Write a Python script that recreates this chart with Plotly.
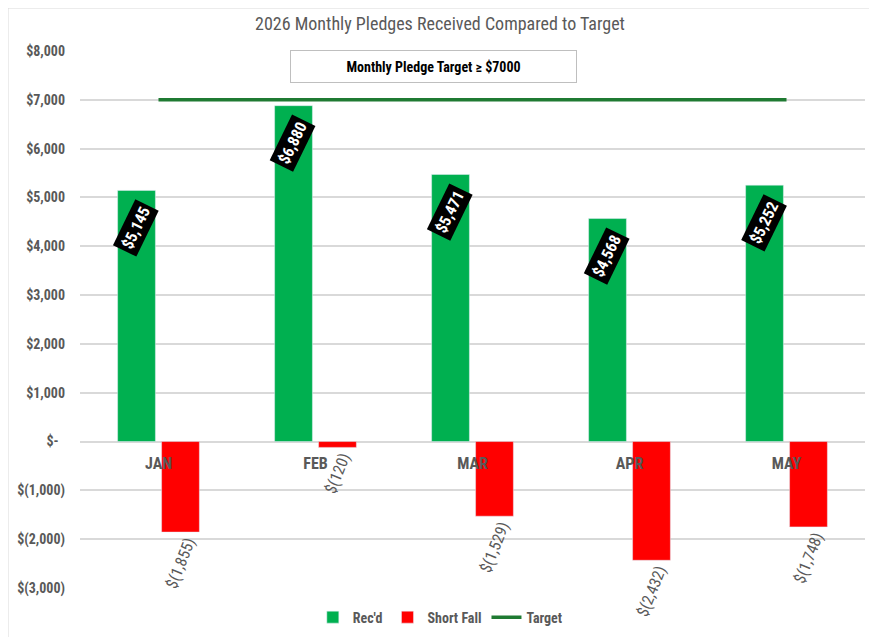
import plotly.graph_objects as go

months = ["JAN", "FEB", "MAR", "APR", "MAY"]
recd = [5145, 6880, 5471, 4568, 5252]
shortfall = [-1855, -120, -1529, -2432, -1748]
target = [7000, 7000, 7000, 7000, 7000]
y_tickvals = [8000, 7000, 6000, 5000, 4000, 3000, 2000, 1000, 0, -1000, -2000, -3000]


def acct(v):
    if v == 0:
        return "$-  "
    if v < 0:
        return f"$({abs(v):,})"
    return f"${v:,}"


FONT = "Liberation Sans Narrow, Arial Narrow, Roboto Condensed, Roboto, sans-serif"
GREY = "#595959"

fig = go.Figure()
fig.add_trace(go.Bar(
    x=months, y=recd, name="Rec'd", marker=dict(color="#00B050"),
))
fig.add_trace(go.Bar(
    x=months, y=shortfall, name="Short Fall", marker=dict(color="#FF0000"),
    text=[acct(v) for v in shortfall], textposition="outside", textangle=-68,
    constraintext="none", cliponaxis=False,
    textfont=dict(family=FONT, size=16, color=GREY),
))
fig.add_trace(go.Scatter(
    x=months, y=target, name="Target", mode="lines",
    line=dict(color="#1F7A32", width=3.5),
))

for m, v in zip(months, recd):
    fig.add_annotation(
        x=m, y=v, xref="x", yref="y", text=f"<b>{acct(v)}</b>", showarrow=False,
        xshift=-23, yshift=-38, textangle=-64, bgcolor="black", borderpad=3,
        font=dict(family=FONT, size=16, color="white"),
    )

fig.add_annotation(
    x=0.4503, y=0.971, xref="paper", yref="paper", xanchor="center", yanchor="middle",
    showarrow=False,
    text="<b>Monthly Pledge Target ≥ $7000</b>", width=281, height=27,
    bgcolor="white", bordercolor="#bfbfbf", borderwidth=1, borderpad=2,
    font=dict(family=FONT, size=14, color="black"),
)

# faint chart-area border (top and left edges)
bx0 = (8 - 80) / 785
by1 = (588 - 8) / 537
fig.add_shape(type="line", xref="paper", yref="paper", x0=bx0, x1=1.2, y0=by1, y1=by1,
              line=dict(color="#d9d9d9", width=1), layer="below")
fig.add_shape(type="line", xref="paper", yref="paper", x0=bx0, x1=bx0, y0=-0.2, y1=by1,
              line=dict(color="#d9d9d9", width=1), layer="below")

fig.update_layout(
    width=877, height=637,
    margin=dict(l=72, r=20, t=43, b=57, autoexpand=False),
    paper_bgcolor="white", plot_bgcolor="white",
    barmode="group", bargap=0.44, bargroupgap=0.14,
    font=dict(family=FONT, color=GREY),
    title=dict(text="2026 Monthly Pledges Received Compared to Target",
               x=432 / 877, xanchor="center", y=1 - 16 / 637, yanchor="middle",
               font=dict(family=FONT, size=18, color=GREY)),
    legend=dict(orientation="h", x=0.459, xanchor="center", y=-0.055, yanchor="middle",
                font=dict(family=FONT, size=14, color=GREY, weight="bold"),
                traceorder="normal"),
    xaxis=dict(anchor="free", position=3000 / 11000, showline=False, ticks="",
               showgrid=False,
               tickfont=dict(family=FONT, size=16, color=GREY, weight="bold"),
               ticklabelstandoff=10),
    yaxis=dict(range=[-3000, 8000], tickvals=y_tickvals,
               ticktext=[acct(v) for v in y_tickvals],
               showgrid=True, gridcolor="#d9d9d9", gridwidth=1.5,
               zeroline=True, zerolinecolor="#d9d9d9", zerolinewidth=1.5,
               showline=False, ticks="", ticklabelstandoff=14,
               tickfont=dict(family=FONT, size=14, color=GREY, weight="bold")),
)

fig.write_html("out.html")
